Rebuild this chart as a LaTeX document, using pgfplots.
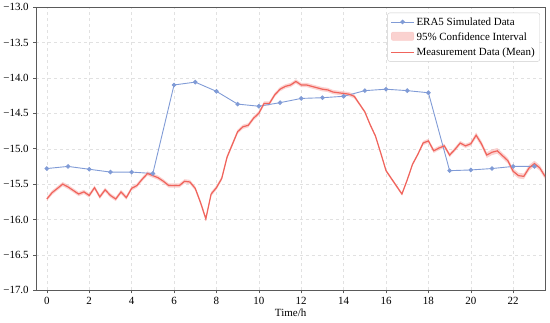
\documentclass[border=0pt]{standalone}
\usepackage{pgfplots}
\pgfplotsset{compat=1.18}
\usepackage{pgfplotstable}
\usepgfplotslibrary{fillbetween}
\usepackage{fontspec}
\setmainfont{Liberation Serif}
\definecolor{eraBlue}{RGB}{128,155,214}
\definecolor{measRed}{RGB}{240,100,92}
\definecolor{ciRed}{RGB}{248,180,178}
\definecolor{gridGray}{RGB}{225,225,225}
\definecolor{spine}{RGB}{90,90,90}
\pgfplotsset{
  linelegend/.style={legend image code/.code={\draw[mark repeat=2,mark phase=2,##1]
    plot coordinates {(0cm,0cm) (0.4cm,0cm) (0.8cm,0cm)};}},
  cilegend/.style={legend image code/.code={\draw[##1] (0cm,-0.12cm) rectangle (0.8cm,0.18cm);}},
}

\pgfplotstableread{
h m lo hi
0.00 -15.71 -15.74 -15.68
0.25 -15.62 -15.65 -15.59
0.50 -15.56 -15.59 -15.53
0.75 -15.50 -15.53 -15.47
1.00 -15.54 -15.57 -15.51
1.25 -15.59 -15.62 -15.56
1.50 -15.64 -15.67 -15.61
1.75 -15.61 -15.64 -15.58
2.00 -15.66 -15.69 -15.63
2.25 -15.55 -15.58 -15.52
2.50 -15.68 -15.71 -15.65
2.75 -15.58 -15.61 -15.55
3.00 -15.66 -15.69 -15.63
3.25 -15.71 -15.74 -15.68
3.50 -15.61 -15.64 -15.58
3.75 -15.69 -15.72 -15.66
4.00 -15.56 -15.59 -15.53
4.25 -15.52 -15.55 -15.49
4.50 -15.43 -15.46 -15.40
4.75 -15.35 -15.38 -15.32
5.00 -15.38 -15.41 -15.35
5.25 -15.41 -15.44 -15.38
5.50 -15.46 -15.49 -15.43
5.75 -15.52 -15.55 -15.49
6.00 -15.52 -15.55 -15.49
6.25 -15.52 -15.55 -15.49
6.50 -15.46 -15.49 -15.43
6.75 -15.47 -15.50 -15.44
7.00 -15.56 -15.59 -15.53
7.25 -15.76 -15.79 -15.73
7.50 -15.99 -16.02 -15.96
7.75 -15.64 -15.67 -15.61
8.00 -15.55 -15.58 -15.52
8.25 -15.42 -15.45 -15.39
8.50 -15.12 -15.15 -15.09
8.75 -14.94 -14.97 -14.91
9.00 -14.76 -14.79 -14.73
9.25 -14.69 -14.72 -14.66
9.50 -14.67 -14.70 -14.64
9.75 -14.57 -14.60 -14.54
10.00 -14.50 -14.53 -14.47
10.25 -14.36 -14.39 -14.33
10.50 -14.36 -14.39 -14.33
10.75 -14.24 -14.27 -14.21
11.00 -14.16 -14.19 -14.13
11.25 -14.12 -14.15 -14.09
11.50 -14.10 -14.13 -14.07
11.75 -14.05 -14.08 -14.02
12.00 -14.10 -14.13 -14.07
12.25 -14.10 -14.13 -14.07
12.50 -14.12 -14.15 -14.09
12.75 -14.14 -14.17 -14.11
13.00 -14.16 -14.19 -14.13
13.25 -14.17 -14.20 -14.14
13.50 -14.20 -14.23 -14.17
13.75 -14.21 -14.24 -14.18
14.00 -14.22 -14.25 -14.19
14.25 -14.23 -14.26 -14.20
14.50 -14.26 -14.29 -14.23
14.75 -14.37 -14.39 -14.35
15.00 -14.48 -14.50 -14.46
15.25 -14.66 -14.68 -14.64
15.50 -14.82 -14.84 -14.80
15.75 -15.06 -15.08 -15.04
16.00 -15.31 -15.33 -15.29
16.25 -15.42 -15.44 -15.40
16.50 -15.53 -15.55 -15.51
16.75 -15.64 -15.66 -15.62
17.00 -15.44 -15.46 -15.42
17.25 -15.22 -15.24 -15.20
17.50 -15.08 -15.10 -15.06
17.75 -14.92 -14.95 -14.89
18.00 -14.89 -14.92 -14.86
18.25 -15.03 -15.06 -15.00
18.50 -14.99 -15.02 -14.96
18.75 -14.96 -14.99 -14.93
19.00 -15.09 -15.12 -15.06
19.25 -15.01 -15.04 -14.98
19.50 -14.92 -14.95 -14.89
19.75 -14.96 -14.99 -14.93
20.00 -14.93 -14.96 -14.90
20.25 -14.81 -14.85 -14.77
20.50 -14.93 -14.97 -14.89
20.75 -15.09 -15.13 -15.05
21.00 -15.05 -15.09 -15.01
21.25 -15.03 -15.07 -14.99
21.50 -15.10 -15.14 -15.06
21.75 -15.17 -15.21 -15.13
22.00 -15.32 -15.36 -15.28
22.25 -15.38 -15.42 -15.34
22.50 -15.39 -15.43 -15.35
22.75 -15.27 -15.31 -15.23
23.00 -15.21 -15.25 -15.17
23.25 -15.27 -15.31 -15.23
23.50 -15.39 -15.43 -15.35
}\meas

\pgfplotstableread{
h v
0 -15.28
1 -15.25
2 -15.29
3 -15.33
4 -15.33
5 -15.35
6 -14.10
7 -14.06
8 -14.19
9 -14.37
10 -14.40
11 -14.35
12 -14.29
13 -14.28
14 -14.26
15 -14.18
16 -14.16
17 -14.18
18 -14.21
19 -15.31
20 -15.30
21 -15.28
22 -15.25
23 -15.25
}\era

\begin{document}
\begin{tikzpicture}
\begin{axis}[
  scale only axis,
  width=510pt, height=284pt,
  xmin=-0.5, xmax=23.5,
  ymin=-17, ymax=-13,
  xtick={0,2,...,22},
  ytick={-17,-16.5,-16,-15.5,-15,-14.5,-14,-13.5,-13},
  yticklabels={−17.0,−16.5,−16.0,−15.5,−15.0,−14.5,−14.0,−13.5,−13.0},
  /pgf/number format/assume math mode=true,
  tick label style={font=\fontsize{11}{13}\selectfont},
  yticklabel style={xshift=-1pt},
  label style={font=\fontsize{11}{13}\selectfont},
  xlabel={Time/h},
  xlabel style={yshift=2pt},
  tick align=outside,
  tick pos=left,
  major tick length=3pt,
  tick style={spine, line width=0.6pt},
  axis line style={spine, line width=0.9pt},
  grid=major,
  major grid style={gridGray, dashed, line width=0.4pt},
  legend style={at={(0.99,0.98)}, anchor=north east,
    font=\fontsize{11}{13}\selectfont,
    draw=gridGray!80!gray, rounded corners=2pt,
    inner xsep=3pt, inner ysep=2.5pt,
    row sep=2pt},
  legend cell align=left,
]
\addplot[eraBlue, line width=0.9pt, mark=*, mark size=1.8pt,
  mark options={fill=eraBlue, draw=eraBlue}, linelegend] table[x=h, y=v] {\era};
\addlegendentry{ERA5 Simulated Data}

\addplot[name path=lo, draw=none, forget plot] table[x=h, y=lo] {\meas};
\addplot[name path=hi, draw=none, forget plot] table[x=h, y=hi] {\meas};
\addplot[ciRed, fill=ciRed, fill opacity=0.6, draw opacity=0.5, cilegend]
  fill between[of=lo and hi];
\addlegendentry{95\% Confidence Interval}

\addplot[measRed, line width=1.2pt, no marks, linelegend] table[x=h, y=m] {\meas};
\addlegendentry{Measurement Data (Mean)}
\end{axis}
\path ([shift={(-35pt,-32pt)}]current axis.south west) rectangle ([shift={(5pt,7pt)}]current axis.north east);
\end{tikzpicture}
\end{document}
